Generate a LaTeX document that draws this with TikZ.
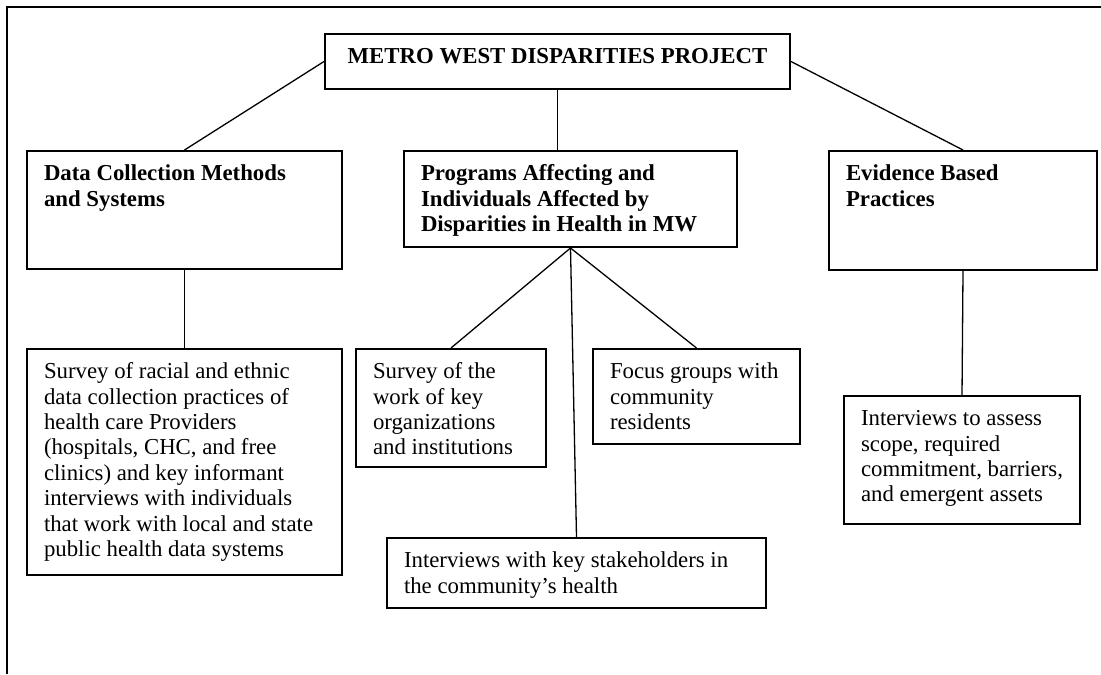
\documentclass[tikz,border=0pt]{standalone}
\usepackage{fontspec}
\setmainfont{Liberation Serif}
\newlength{\px}
\setlength{\px}{0.5pt}
% text block of a box: width and height in px, text set from the top left
\newcommand{\boxtext}[3]{\parbox[t][\dimexpr#2\px-24\px\relax][t]{\dimexpr#1\px-34\px\relax}{\strut#3}}
\tikzset{
  box/.style={draw, line width=1pt, anchor=north west, inner xsep=8.5pt, inner ysep=6pt},
  link/.style={line width=0.65pt}
}
\begin{document}
\begin{tikzpicture}[x=0.5pt, y=-0.5pt, font=\fontsize{11.4}{12.7}\selectfont]
  \useasboundingbox (0,0) rectangle (1101,674);
  \draw[line width=1pt] (1101,7) -- (7,7) -- (7,674);

  % top level
  \node[box] (title) at (324,33) {\boxtext{465}{55}{\centering\bfseries METRO WEST DISPARITIES PROJECT}};
  \node[box] (data) at (26,150) {\boxtext{315}{118}{\bfseries Data Collection Methods\\and Systems}};
  \node[box] (prog) at (403,150) {\boxtext{333}{96}{\bfseries Programs Affecting and\\Individuals Affected by\\Disparities in Health in MW}};
  \node[box] (ev) at (828,150) {\boxtext{268}{119}{\bfseries Evidence Based\\Practices}};

  % methods
  \node[box] (racial) at (26,348) {\boxtext{315}{226}{Survey of racial and ethnic\\data collection practices of\\health care Providers\\(hospitals, CHC, and free\\clinics) and key informant\\interviews with individuals\\that work with local and state\\public health data systems}};
  \node[box] (work) at (355,348) {\boxtext{190}{118}{Survey of the\\work of key\\organizations\\and institutions}};
  \node[box] (focus) at (592,348) {\boxtext{207}{95}{Focus groups with\\community\\residents}};
  \node[box] (evint) at (843,395) {\boxtext{236}{128}{Interviews to assess\\scope, required\\commitment, barriers,\\and emergent assets}};
  \node[box] (stake) at (386,537) {\boxtext{379}{70}{Interviews with key stakeholders in\\the community’s health}};

  \draw[link] (title.west) -- (data.north);
  \draw[link] (title.south) -- (title.south |- prog.north);
  \draw[link] (title.east) -- (ev.north);
  \draw[link] (data.south) -- (racial.north);
  \foreach \c in {work,stake,focus} {
    \draw[link] (prog.south) -- (\c.north);
  }
  \draw[link] (ev.south) -- (evint.north);
\end{tikzpicture}
\end{document}
